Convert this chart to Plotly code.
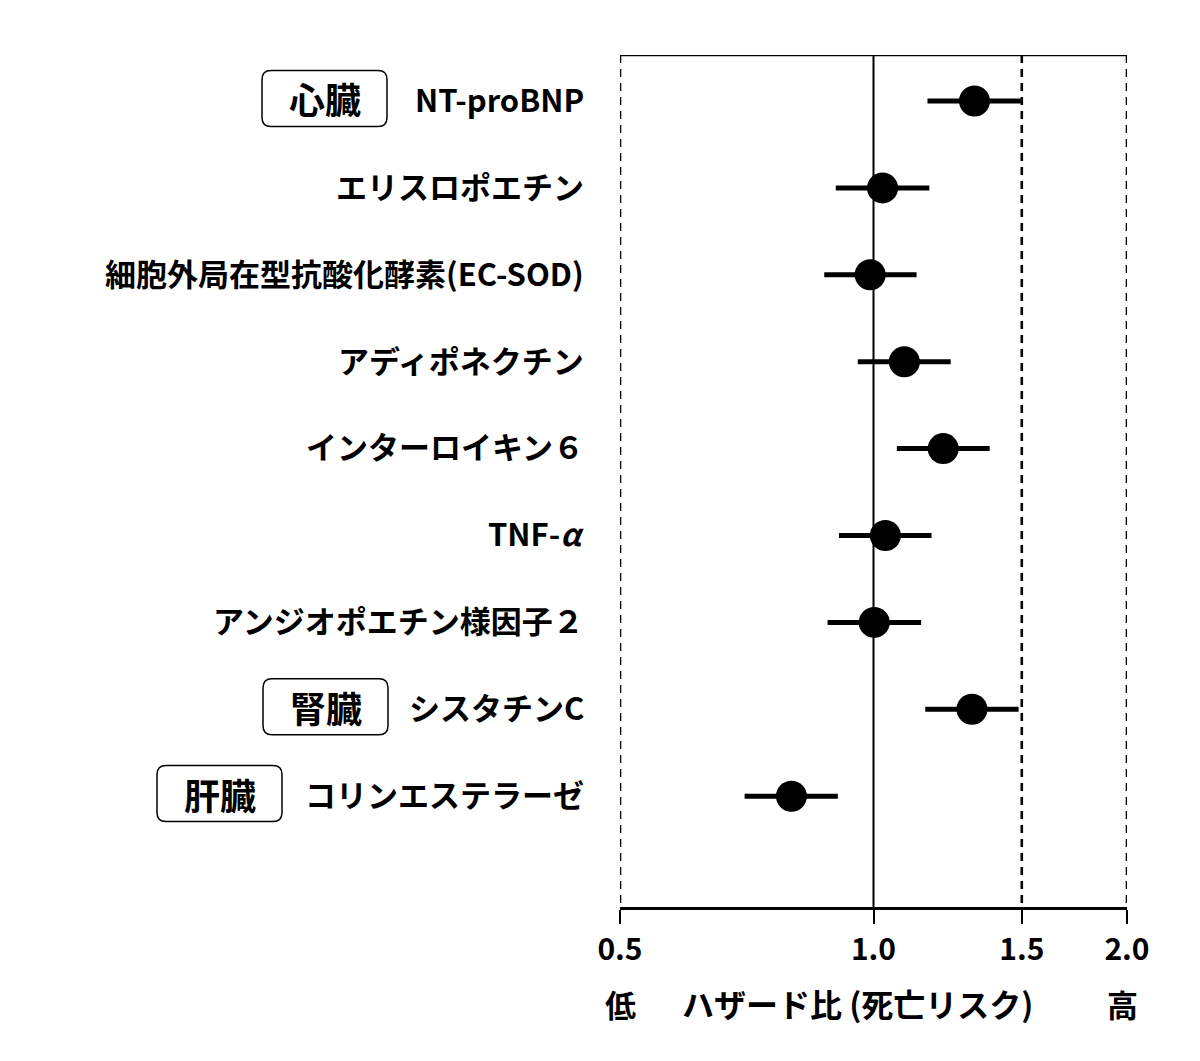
import math
import plotly.graph_objects as go

# ---- data ----
markers = ["NT-proBNP", "エリスロポエチン", "細胞外局在型抗酸化酵素(EC-SOD)", "アディポネクチン",
           "インターロイキン６", "TNF-<i>α</i>", "アンジオポエチン様因子２", "シスタチンC", "コリンエステラーゼ"]
hr = [1.318, 1.025, 0.991, 1.088, 1.210, 1.033, 1.002, 1.309, 0.799]
ci_low = [1.159, 0.902, 0.874, 0.958, 1.066, 0.910, 0.882, 1.152, 0.703]
ci_high = [1.496, 1.165, 1.125, 1.235, 1.374, 1.172, 1.139, 1.487, 0.907]
organs = ["心臓", "腎臓", "肝臓"]
organ_rows = [0, 7, 8]
organ_box_left_px = [262, 263, 157]
tick_vals = [0.5, 1.0, 1.5, 2.0]
tick_text = ["0.5", "1.0", "1.5", "2.0"]
ref_solid = [1.0]
ref_dashed = [0.5, 1.5, 2.0]

FONT = "Noto Sans CJK JP"
W, H = 1200, 1061
ML, MR, MT, MB = 620, 73, 55, 154
PW = W - ML - MR
PH = H - MT - MB
row_step = 86.9
first_row_px = 101
y_top = -(first_row_px - MT) / row_step
y_bot = (MT + PH - first_row_px) / row_step

rows = list(range(len(markers)))

fig = go.Figure()

# reference lines
for xv in ref_solid:
    fig.add_trace(go.Scatter(x=[xv, xv], y=[y_top, y_bot], mode="lines",
                             line=dict(color="black", width=2), hoverinfo="skip", showlegend=False))
for xv in ref_dashed:
    fig.add_trace(go.Scatter(x=[xv, xv], y=[y_top, y_bot], mode="lines",
                             line=dict(color="black", width=2.6, dash="8px,6px"), hoverinfo="skip", showlegend=False))
# top border
fig.add_trace(go.Scatter(x=[tick_vals[0], tick_vals[-1]], y=[y_top, y_top], mode="lines",
                         line=dict(color="black", width=2.5), hoverinfo="skip", showlegend=False))

# estimates
fig.add_trace(go.Scatter(
    x=hr, y=rows, mode="markers",
    marker=dict(size=31, color="black"),
    error_x=dict(type="data", symmetric=False,
                 array=[h - c for h, c in zip(ci_high, hr)],
                 arrayminus=[c - l for c, l in zip(hr, ci_low)],
                 color="black", thickness=5, width=0),
    showlegend=False))

# organ boxes
bw_px, bh_px, r_px = 125, 56, 9
for name, row, left in zip(organs, organ_rows, organ_box_left_px):
    x0 = (left - ML) / PW
    x1 = (left + bw_px - ML) / PW
    yc = row - 0.03
    y0 = yc - bh_px / 2 / row_step
    y1 = yc + bh_px / 2 / row_step
    rx = r_px / PW
    ry = r_px / row_step
    path = (f"M {x0+rx},{y0} L {x1-rx},{y0} Q {x1},{y0} {x1},{y0+ry} "
            f"L {x1},{y1-ry} Q {x1},{y1} {x1-rx},{y1} L {x0+rx},{y1} "
            f"Q {x0},{y1} {x0},{y1-ry} L {x0},{y0+ry} Q {x0},{y0} {x0+rx},{y0} Z")
    fig.add_shape(type="path", path=path, xref="paper", yref="y",
                  line=dict(color="black", width=1.5), fillcolor="white")
    fig.add_annotation(x=(x0 + x1) / 2, y=yc, xref="paper", yref="y", text=name,
                       showarrow=False, xanchor="center", yanchor="middle",
                       font=dict(family=FONT, size=36, color="black", weight="bold"))

# marker labels
for name, row in zip(markers, rows):
    fig.add_annotation(x=(586 - ML) / PW, y=row - 0.03, xref="paper", yref="y", text=name,
                       showarrow=False, xanchor="right", yanchor="middle",
                       font=dict(family=FONT, size=31, color="black", weight="bold"))

# bottom labels
ylab = -(1003 - MT - PH) / PH
fig.add_annotation(x=0.0, y=ylab, xref="paper", yref="paper", text="低", showarrow=False,
                   xanchor="center", yanchor="middle",
                   font=dict(family=FONT, size=31, color="black", weight="bold"))
fig.add_annotation(x=(857 - ML) / PW, y=ylab, xref="paper", yref="paper",
                   text="ハザード比 (死亡リスク)", showarrow=False,
                   xanchor="center", yanchor="middle",
                   font=dict(family=FONT, size=32, color="black", weight="bold"))
fig.add_annotation(x=(1122 - ML) / PW, y=ylab, xref="paper", yref="paper", text="高", showarrow=False,
                   xanchor="center", yanchor="middle",
                   font=dict(family=FONT, size=31, color="black", weight="bold"))

fig.update_xaxes(type="log", range=[math.log10(tick_vals[0]), math.log10(tick_vals[-1])],
                 tickvals=tick_vals, ticktext=tick_text,
                 tickfont=dict(family=FONT, size=30, color="black", weight="bold"),
                 ticks="outside", ticklen=14, tickwidth=2, tickcolor="black",
                 showline=True, linecolor="black", linewidth=2.5,
                 showgrid=False, zeroline=False, fixedrange=True)
fig.update_yaxes(range=[y_bot, y_top], showticklabels=False, showgrid=False,
                 zeroline=False, showline=False, ticks="", fixedrange=True)

fig.update_layout(width=W, height=H, margin=dict(l=ML, r=MR, t=MT, b=MB, autoexpand=False),
                  plot_bgcolor="white", paper_bgcolor="white",
                  font=dict(family=FONT, color="black"))

fig.write_html("out.html")
